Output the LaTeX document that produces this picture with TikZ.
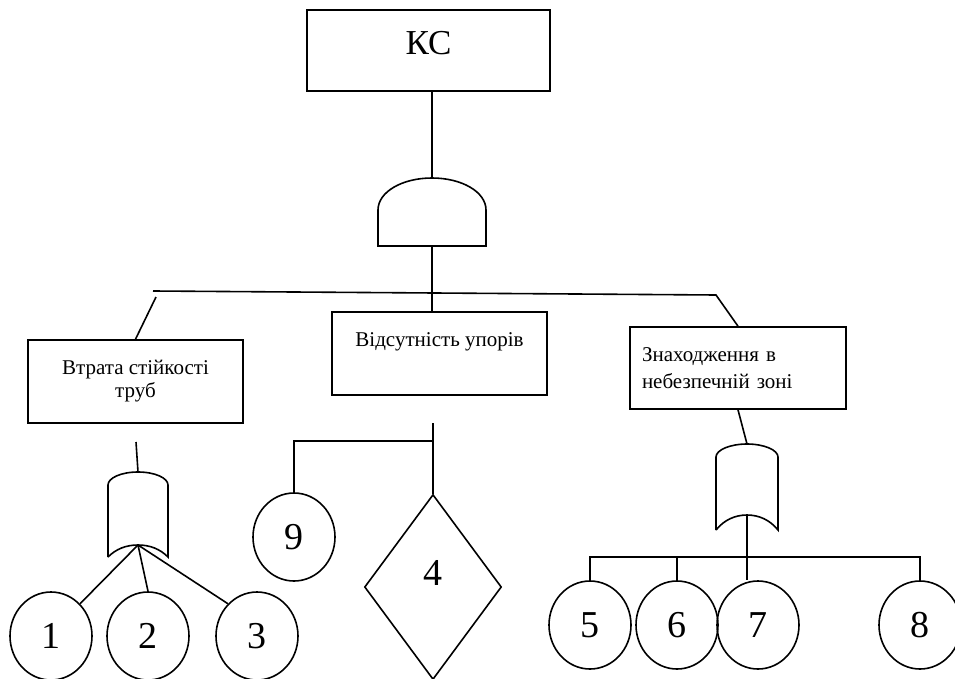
\documentclass[tikz,border=0pt]{standalone}
\usepackage{fontspec}
\setmainfont{Liberation Serif}
\usetikzlibrary{shapes.geometric, positioning}

\begin{document}
\begin{tikzpicture}[x=1pt, y=-1pt, line width=1.6pt,
    box/.style={draw, rectangle, inner sep=0pt, align=center, font=\fontsize{21}{23}\selectfont},
    event/.style={draw, ellipse, minimum width=82pt, minimum height=88pt, inner sep=0pt, font=\fontsize{38}{40}\selectfont},
    cond/.style={draw, diamond, minimum width=137pt, minimum height=185pt, inner sep=0pt, font=\fontsize{38}{40}\selectfont}]
    \useasboundingbox (0,0) rectangle (955,679);

    % top event
    \node[box, minimum width=243pt, minimum height=81pt, text height=23pt, text depth=15pt,
          font=\fontsize{35}{40}\selectfont] (ks) at (428.5,50.5) {КС};

    % gates
    \coordinate (andtop) at (432,178);
    \coordinate (andbot) at (432,246);
    \coordinate (or1top) at (138,472);
    \coordinate (or1bot) at (138,545);
    \coordinate (or2top) at (747,444);
    \coordinate (or2bot) at (747,515);

    \draw (378,246) -- (378,210) .. controls (378,192) and (402,178) .. (andtop)
          .. controls (462,178) and (486,192) .. (486,210) -- (486,246) -- cycle;
    \draw (108,557) -- (108,485) .. controls (108,478) and (121,472) .. (or1top)
          .. controls (155,472) and (168,478) .. (168,485) -- (168,557)
          .. controls (160,549) and (150,545) .. (or1bot)
          .. controls (126,545) and (116,549) .. (108,557);
    \draw (716,530) -- (716,457) .. controls (716,450) and (730,444) .. (or2top)
          .. controls (764,444) and (778,450) .. (778,457) -- (778,530)
          .. controls (770,520) and (759,515) .. (or2bot)
          .. controls (735,515) and (724,520) .. (716,530);

    % intermediate events
    \node[box, minimum width=215pt, minimum height=83pt] (b1) at (135.5,381.5) {Втрата стійкості\\труб};
    \node[box, minimum width=215pt, minimum height=83pt, font=\fontsize{21}{28}\selectfont] (b2) at (439.5,353.5) {Відсутність упорів\\~};
    \node[box, minimum width=216pt, minimum height=82pt, text width=192pt, align=left,
          font=\fontsize{21}{27}\selectfont] (b3) at (738,368) {Знаходження в\\небезпечній зоні};

    % basic events
    \node[event] (c1) at (51,636) {1};
    \node[event] (c2) at (148,636) {2};
    \node[event] (c3) at (257,636) {3};
    \node[event] (c9) at (294,537) {9};
    \node[cond, text depth=28pt] (d4) at (433,587) {4};
    \node[event] (c5) at (590,625) {5};
    \node[event] (c6) at (677,625) {6};
    \node[event] (c7) at (758,625) {7};
    \node[event] (c8) at (920,625) {8};

    % connections
    \coordinate (barL) at (153,291);
    \coordinate (barR) at (716,295);
    \coordinate (l1) at (156,297);
    \coordinate (or1in) at (136,442);
    \coordinate (s2) at (433,423);
    \coordinate (h1) at (433,441);
    \coordinate (h2) at (747,557);

    \draw (andtop |- ks.south) -- (andtop);
    \draw (andbot) -- (andbot |- b2.north);
    \draw (barL) -- (barR) -- (b3.north);
    \draw (l1) -- (b1.north);
    \draw (or1in) -- (or1top);
    \draw (or1bot) -- (c1.48);
    \draw (or1bot) -- (c2.north);
    \draw (or1bot) -- (c3.132);
    \draw (s2) -- (d4.north);
    \draw (h1) -| (c9.north);
    \draw (b3.south) -- (or2top);
    \draw (or2bot) -- (or2bot |- c7.north);
    \draw (c5.north) |- (h2) -| (c8.north);
    \draw (c6.north) -- (c6.north |- h2);
\end{tikzpicture}
\end{document}
